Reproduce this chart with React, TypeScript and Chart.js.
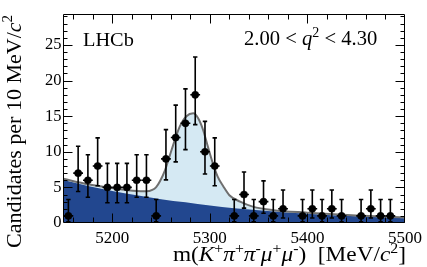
import React, { useEffect, useRef } from "react";
import { Chart, registerables } from "chart.js";

Chart.register(...registerables);

// ---- data ----
const binCenters = [
  5155, 5165, 5175, 5185, 5195, 5205, 5215, 5225, 5235, 5245,
  5255, 5265, 5275, 5285, 5295, 5305, 5315, 5325, 5335, 5345,
  5355, 5365, 5375, 5385, 5395, 5405, 5415, 5425, 5435, 5445,
  5455, 5465, 5475, 5485, 5495,
];
const counts: (number | null)[] = [
  1, 7, 6, 8, 5, 5, 5, 6, 6, 1,
  9, 12, 14, 18, 10, 8, null, 1, 4, 1,
  3, 1, 2, null, 1, 2, 1, 2, 1, null,
  1, 2, 1, 1, null,
];
const lowerBound: (number | null)[] = [
  0.17, 4.42, 3.62, 5.23, 2.84, 2.84, 2.84, 3.62, 3.62, 0.17,
  6.06, 8.58, 10.31, 13.81, 6.89, 5.23, null, 0.17, 2.09, 0.17,
  1.37, 0.17, 0.71, null, 0.17, 0.71, 0.17, 0.71, 0.17, null,
  0.17, 0.71, 0.17, 0.17, null,
];
const upperBound: (number | null)[] = [
  3.3, 10.77, 9.58, 11.95, 8.38, 8.38, 8.38, 9.58, 9.58, 3.3,
  13.11, 16.56, 18.83, 23.31, 14.27, 11.95, null, 3.3, 7.16, 3.3,
  5.92, 3.3, 4.64, null, 3.3, 4.64, 3.3, 4.64, 3.3, null,
  3.3, 4.64, 3.3, 3.3, null,
];
const binHalfWidth = 5;

const bkgMass = [5150, 5175, 5200, 5225, 5250, 5275, 5300, 5325, 5350, 5375, 5400, 5425, 5450, 5475, 5500];
const bkgValue = [6.05, 5.2, 4.5, 3.9, 3.35, 2.9, 2.45, 2.08, 1.78, 1.52, 1.3, 1.1, 0.95, 0.8, 0.68];

const totalMass = [
  5150, 5175, 5200, 5215, 5225, 5235, 5241, 5245, 5249, 5254,
  5259, 5264, 5269, 5276, 5283, 5288, 5293, 5298, 5303, 5308,
  5314, 5320, 5331, 5344, 5365, 5400, 5450, 5500,
];
const totalValue = [
  6.2, 5.45, 4.9, 4.62, 4.48, 4.45, 4.65, 5.05, 5.9, 7.4,
  9.5, 11.6, 13.5, 15.0, 15.4, 14.7, 13.1, 10.7, 8.4, 6.5,
  5.1, 3.9, 3.0, 2.3, 1.8, 1.45, 1.05, 0.78,
];

const xTickLabels = [5200, 5300, 5400, 5500];
const yTickLabels = [0, 5, 10, 15, 20, 25];
const xRange = [5150, 5500];
const yRange = [0, 29.35];

const SERIF = '"Liberation Serif", "Times New Roman", serif';

type Seg = { t: string; it?: boolean; sup?: boolean };

function drawRich(
  ctx: CanvasRenderingContext2D,
  segs: Seg[],
  x: number,
  y: number,
  size: number,
  align: "left" | "right",
  hs: number
) {
  const fontOf = (s: Seg) =>
    `${s.it ? "italic " : ""}${s.sup ? size * 0.68 : size}px ${SERIF}`;
  let w = 0;
  for (const s of segs) {
    ctx.font = fontOf(s);
    w += ctx.measureText(s.t).width;
  }
  ctx.save();
  ctx.translate(x, y);
  ctx.scale(hs, 1);
  let cx = align === "right" ? -w : 0;
  ctx.textAlign = "left";
  ctx.textBaseline = "alphabetic";
  for (const s of segs) {
    ctx.font = fontOf(s);
    ctx.fillText(s.t, cx, s.sup ? -size * 0.4 : 0);
    cx += ctx.measureText(s.t).width;
  }
  ctx.restore();
}

const decorPlugin = {
  id: "decor",
  afterDatasetsDraw(chart: any) {
    const ctx = chart.ctx as CanvasRenderingContext2D;
    const xs = chart.scales.x;
    const ys = chart.scales.y;
    ctx.save();
    ctx.strokeStyle = "#000";
    ctx.lineWidth = 1.6;
    for (let i = 0; i < binCenters.length; i++) {
      const c = counts[i];
      if (c === null) continue;
      const lo = lowerBound[i] as number;
      const hi = upperBound[i] as number;
      const px = xs.getPixelForValue(binCenters[i]);
      const pyLo = ys.getPixelForValue(lo);
      const pyHi = ys.getPixelForValue(hi);
      const py = ys.getPixelForValue(c);
      const pxL = xs.getPixelForValue(binCenters[i] - binHalfWidth);
      const pxR = xs.getPixelForValue(binCenters[i] + binHalfWidth);
      ctx.beginPath();
      ctx.moveTo(px, pyLo);
      ctx.lineTo(px, pyHi);
      ctx.moveTo(px - 2.2, pyLo);
      ctx.lineTo(px + 2.2, pyLo);
      ctx.moveTo(px - 2.2, pyHi);
      ctx.lineTo(px + 2.2, pyHi);
      ctx.moveTo(pxL, py);
      ctx.lineTo(pxR, py);
      ctx.stroke();
    }
    ctx.restore();
  },
  afterDraw(chart: any) {
    const ctx = chart.ctx as CanvasRenderingContext2D;
    const { left, right, top, bottom } = chart.chartArea;
    const xs = chart.scales.x;
    const ys = chart.scales.y;
    const L = Math.round(left) - 0.5;
    const R = Math.round(right) - 0.5;
    const T = Math.round(top) + 0.5;
    const B = Math.round(bottom) - 0.5;
    ctx.save();
    ctx.strokeStyle = "#000";
    ctx.lineWidth = 1;
    ctx.beginPath();
    ctx.rect(L, T, R - L, B - T);
    ctx.stroke();
    ctx.beginPath();
    for (let m = xRange[0] + 10; m < xRange[1]; m += 20) {
      const major = m % 100 === 0;
      const len = major ? 9 : 5;
      const px = Math.round(xs.getPixelForValue(m)) + 0.5;
      ctx.moveTo(px, B);
      ctx.lineTo(px, B - len);
      ctx.moveTo(px, T);
      ctx.lineTo(px, T + len);
    }
    for (let v = 1; v < yRange[1]; v += 1) {
      const major = v % 5 === 0;
      const len = major ? 9 : 4;
      const py = Math.round(ys.getPixelForValue(v)) + 0.5;
      ctx.moveTo(L, py);
      ctx.lineTo(L + len, py);
      ctx.moveTo(R, py);
      ctx.lineTo(R - len, py);
    }
    ctx.stroke();

    ctx.fillStyle = "#000";
    drawRich(ctx, [{ t: "LHCb" }], 83, 46, 19, "left", 1.07);
    drawRich(
      ctx,
      [{ t: "2.00 < " }, { t: "q", it: true }, { t: "2", sup: true }, { t: " < 4.30" }],
      244,
      45,
      20,
      "left",
      1.03
    );
    drawRich(
      ctx,
      [
        { t: "m(" },
        { t: "K", it: true },
        { t: "+", sup: true },
        { t: "π", it: true },
        { t: "+", sup: true },
        { t: "π", it: true },
        { t: "-", sup: true },
        { t: "μ", it: true },
        { t: "+", sup: true },
        { t: "μ", it: true },
        { t: "-", sup: true },
        { t: ")  [MeV/" },
        { t: "c", it: true },
        { t: "2", sup: true },
        { t: "]" },
      ],
      406,
      261,
      21,
      "right",
      1.11
    );
    ctx.save();
    ctx.translate(20.5, 15);
    ctx.rotate(-Math.PI / 2);
    drawRich(
      ctx,
      [{ t: "Candidates per 10 MeV/" }, { t: "c", it: true }, { t: "2", sup: true }],
      0,
      0,
      22,
      "right",
      1
    );
    ctx.restore();
    ctx.restore();
  },
};

export default function App() {
  const ref = useRef<HTMLCanvasElement | null>(null);
  useEffect(() => {
    document.body.style.margin = "0";
    const canvas = ref.current;
    if (!canvas) return;
    const points = binCenters
      .map((m, i) => ({ x: m, y: counts[i] }))
      .filter((p) => p.y !== null) as { x: number; y: number }[];
    const totalPts = totalMass.map((m, i) => ({ x: m, y: totalValue[i] }));
    const bkgPts = bkgMass.map((m, i) => ({ x: m, y: bkgValue[i] }));
    const chart = new Chart(canvas, {
      type: "scatter",
      data: {
        datasets: [
          {
            label: "data",
            data: points,
            pointStyle: "circle",
            pointRadius: 3.6,
            pointHoverRadius: 3.6,
            pointBackgroundColor: "#000",
            pointBorderColor: "#000",
            pointBorderWidth: 0.5,
            showLine: false,
            order: 0,
          },
          {
            label: "fit",
            data: totalPts,
            showLine: true,
            borderColor: "#6f6f6f",
            borderWidth: 2,
            pointRadius: 0,
            fill: false,
            cubicInterpolationMode: "monotone",
            order: 1,
          },
          {
            label: "background",
            data: bkgPts,
            showLine: true,
            borderWidth: 0,
            borderColor: "rgba(0,0,0,0)",
            backgroundColor: "#22478f",
            fill: "origin",
            pointRadius: 0,
            cubicInterpolationMode: "monotone",
            order: 2,
          },
          {
            label: "signal",
            data: totalPts,
            showLine: true,
            borderWidth: 0,
            borderColor: "rgba(0,0,0,0)",
            backgroundColor: "#d5e9f3",
            fill: "origin",
            pointRadius: 0,
            cubicInterpolationMode: "monotone",
            order: 3,
          },
        ],
      } as any,
      options: {
        animation: false,
        responsive: false,
        devicePixelRatio: 1,
        layout: { padding: { left: 0, right: 21.5, top: 14, bottom: 0 } },
        plugins: { legend: { display: false }, tooltip: { enabled: false } },
        scales: {
          x: {
            type: "linear",
            min: xRange[0],
            max: xRange[1],
            afterBuildTicks: (s: any) => {
              s.ticks = xTickLabels.map((v) => ({ value: v }));
            },
            afterFit: (s: any) => {
              s.height = 44;
            },
            ticks: {
              autoSkip: false,
              maxRotation: 0,
              color: "#000",
              padding: 5,
              font: { family: SERIF, size: 17 },
              callback: (v: any) => String(v),
            },
            grid: { display: false, drawTicks: false },
            border: { display: false },
          },
          y: {
            type: "linear",
            min: yRange[0],
            max: yRange[1],
            afterBuildTicks: (s: any) => {
              s.ticks = yTickLabels.map((v) => ({ value: v }));
            },
            afterFit: (s: any) => {
              s.width = 63.5;
            },
            ticks: {
              autoSkip: false,
              color: "#000",
              padding: 2,
              font: { family: SERIF, size: 16.5 },
              callback: (v: any) => String(v),
            },
            grid: { display: false, drawTicks: false },
            border: { display: false },
          },
        },
      },
      plugins: [decorPlugin],
    } as any);
    return () => chart.destroy();
  }, []);
  return <canvas ref={ref} width={427} height={267} style={{ display: "block" }} />;
}
